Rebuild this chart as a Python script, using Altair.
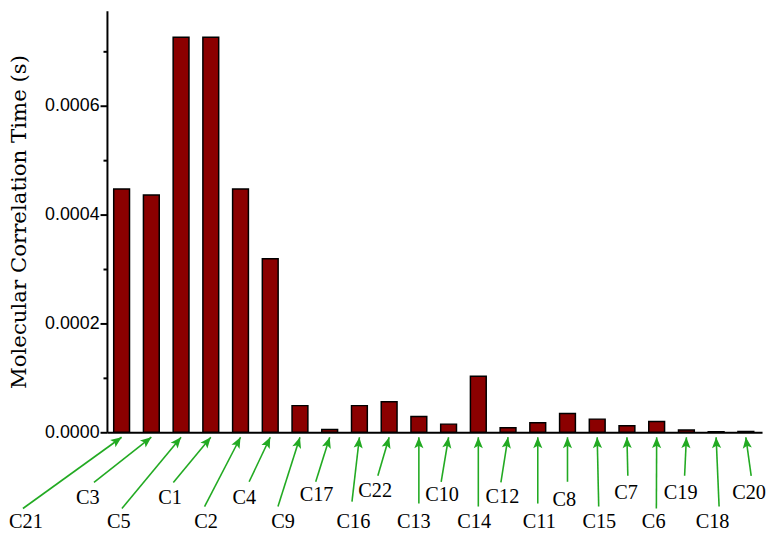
import math
import altair as alt
import pandas as pd

# ---- data ----
categories = ["C21", "C3", "C5", "C1", "C2", "C4", "C9", "C17", "C16", "C22", "C13",
              "C10", "C14", "C12", "C11", "C8", "C15", "C7", "C6", "C19", "C18", "C20"]
values = [0.000447, 0.000436, 0.000726, 0.000726, 0.000447, 0.000319, 0.000049,
          0.000005, 0.000049, 0.000056, 0.000029, 0.000015, 0.000103, 0.0000085,
          0.0000176, 0.0000345, 0.0000242, 0.0000121, 0.000020, 0.0000042,
          0.000001, 0.0000015]

# annotation label anchors (x in bar-slot units, y in value units below the axis)
label_x = [-3.22, -1.14, -0.09, 1.63, 2.84, 4.13, 5.43, 6.56, 7.80, 8.53, 9.83,
           10.78, 11.86, 12.81, 14.05, 14.89, 16.07, 16.97, 17.90, 18.81, 19.88, 21.11]
label_y = [-0.0001655, -0.0001209, -0.0001655, -0.0001209, -0.0001655, -0.0001209,
           -0.0001655, -0.0001155, -0.0001655, -0.0001073, -0.0001655, -0.0001155,
           -0.0001655, -0.0001182, -0.0001655, -0.0001236, -0.0001655, -0.0001118,
           -0.0001655, -0.0001118, -0.0001655, -0.0001118]
# arrow tails
tail_x = [-3.32, -0.93, 0.01, 1.74, 2.79, 4.29, 5.26, 6.53, 7.75, 8.62, 10.00,
          10.75, 12.00, 12.76, 14.00, 15.00, 16.05, 17.03, 17.99, 18.94, 20.10, 21.18]
tail_y = [-0.00014, -0.0000922, -0.00014, -0.0000922, -0.0001364, -0.0000909,
          -0.0001364, -0.0000909, -0.0001273, -0.00008, -0.0001309, -0.0000909,
          -0.0001364, -0.0000922, -0.0001309, -0.0000909, -0.0001364, -0.00008,
          -0.00014, -0.00008, -0.0001364, -0.00008]
tip_y = -0.0000091

y_ticks = [0.0, 0.0001, 0.0002, 0.0003, 0.0004, 0.0005, 0.0006, 0.0007]
y_title = "Molecular Correlation Time (s)"

# ---- layout constants ----
W, H = 662, 426
X_DOMAIN = [-0.493, 21.545]
Y_DOMAIN = [0.0, 0.0007745]
HALF_BAR = 0.266
PX_X = W / (X_DOMAIN[1] - X_DOMAIN[0])
PX_Y = H / (Y_DOMAIN[1] - Y_DOMAIN[0])

n = len(categories)
bars = pd.DataFrame({"cat": categories, "value": values, "idx": list(range(n))})

angles = []
for i in range(n):
    dx = (i - tail_x[i]) * PX_X
    dy = -(tip_y - tail_y[i]) * PX_Y
    angles.append(math.degrees(math.atan2(dx, -dy)) % 360)

ann = pd.DataFrame({
    "cat": categories, "idx": list(range(n)),
    "lx": label_x, "ly": label_y, "tx": tail_x, "ty": tail_y,
    "tipy": [tip_y] * n, "angle": angles,
})

xs = alt.Scale(domain=X_DOMAIN, nice=False, zero=False)
ys = alt.Scale(domain=Y_DOMAIN, nice=False, zero=False)

even = "round(datum.value*10000) % 2 == 0"
y_axis = alt.Axis(
    values=y_ticks,
    labelExpr=f"{even} ? format(datum.value, '.4f') : ''",
    tickSize={"condition": {"test": even, "value": 7}, "value": 4},
    tickWidth=2, tickColor="black",
    domainColor="black", domainWidth=2,
    labelFont="Liberation Sans", labelFontSize=18, labelColor="black",
    labelPadding=1,
    grid=False,
    title=y_title,
    titleFont="DejaVu Serif", titleFontSize=21.5, titleFontWeight="normal",
    titleColor="black", titlePadding=14,
)
x_axis = alt.Axis(labels=False, ticks=False, title=None, grid=False,
                  domainColor="black", domainWidth=2)

bar_layer = alt.Chart(bars).transform_calculate(
    x0=f"datum.idx - {HALF_BAR}", x1=f"datum.idx + {HALF_BAR}"
).mark_bar(color="#8b0000", stroke="black", strokeWidth=1.5, clip=False).encode(
    x=alt.X("x0:Q", scale=xs, axis=x_axis, title=None),
    x2="x1:Q",
    y=alt.Y("value:Q", scale=ys, axis=y_axis, title=y_title),
    y2=alt.datum(0),
)

arrow_lines = alt.Chart(ann).mark_rule(color="#22aa22", strokeWidth=1.6, clip=False).encode(
    x=alt.X("tx:Q", scale=xs, axis=x_axis, title=None),
    y=alt.Y("ty:Q", scale=ys, axis=y_axis, title=y_title),
    x2="idx:Q",
    y2="tipy:Q",
)

heads = alt.Chart(ann).mark_point(
    shape="M0,0 L-0.42,1 L0,0.78 L0.42,1 Z", filled=True, opacity=1,
    color="#22aa22", size=484, clip=False,
).encode(
    x=alt.X("idx:Q", scale=xs, axis=x_axis, title=None),
    y=alt.Y("tipy:Q", scale=ys, axis=y_axis, title=y_title),
    angle=alt.Angle("angle:Q", scale=None),
)

texts = alt.Chart(ann).mark_text(
    font="Liberation Serif", fontSize=20.5, color="black",
    align="center", baseline="middle", clip=False,
).encode(
    x=alt.X("lx:Q", scale=xs, axis=x_axis, title=None),
    y=alt.Y("ly:Q", scale=ys, axis=y_axis, title=y_title),
    text="cat:N",
)

chart = alt.layer(bar_layer, arrow_lines, heads, texts).properties(
    width=W, height=H,
    autosize=alt.AutoSizeParams(type="none"),
    padding={"left": 100, "top": 0, "right": 4, "bottom": 99},
).configure(background="white").configure_view(strokeWidth=0, stroke="transparent")

chart.save("out.html", embed_options={"renderer": "svg", "actions": False})
